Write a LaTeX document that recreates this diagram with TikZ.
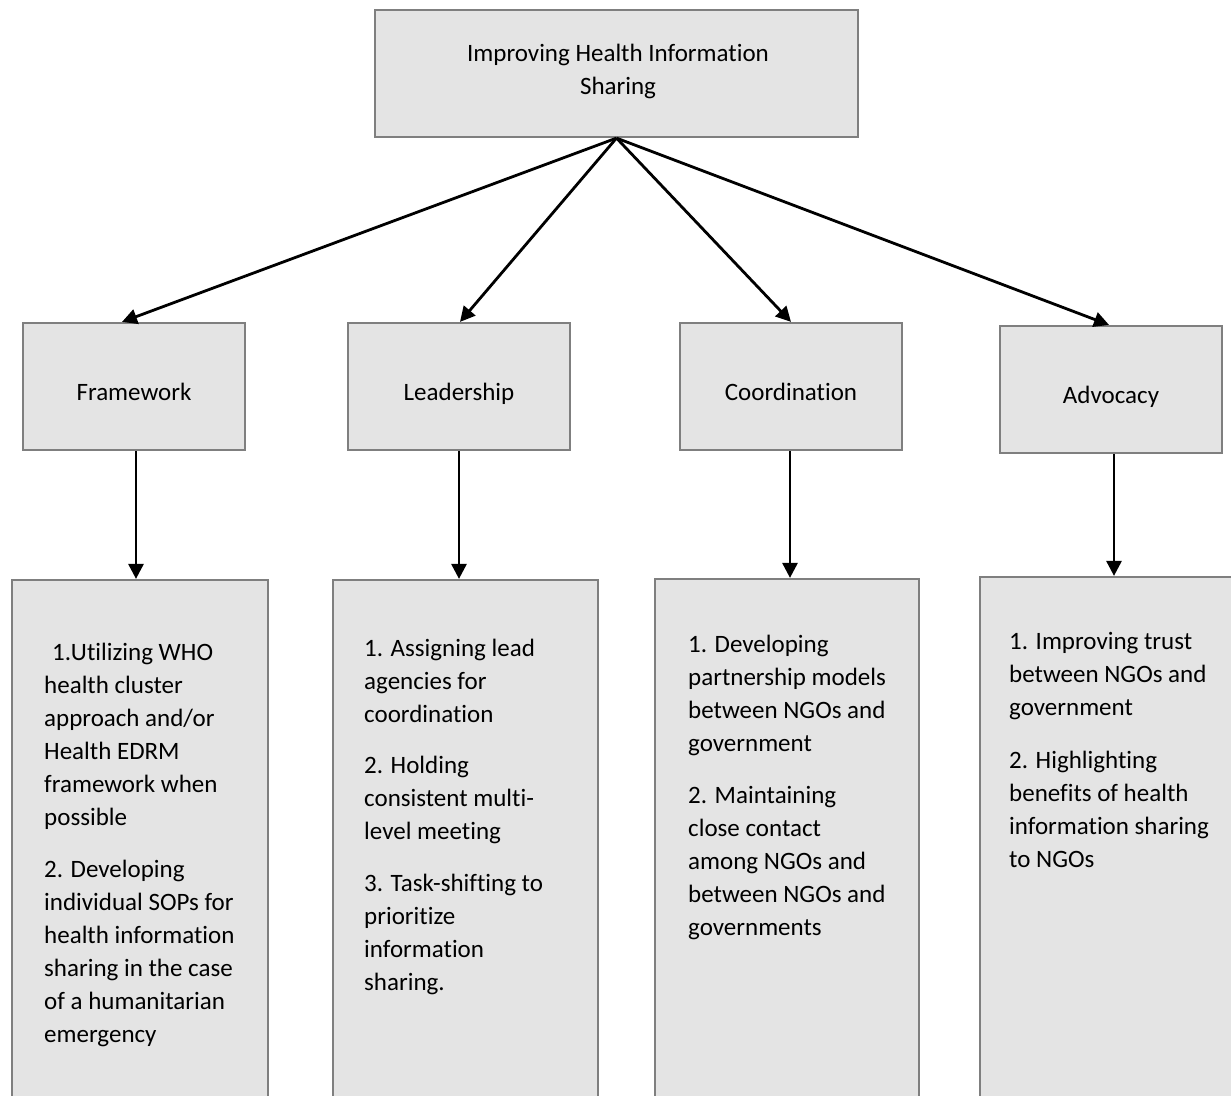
\documentclass[tikz,border=0pt]{standalone}
\usepackage{fontspec}
\setmainfont{Carlito}[Ligatures=NoCommon]
\usetikzlibrary{arrows.meta,calc}
\definecolor{boxfill}{HTML}{E4E4E4}
\definecolor{boxline}{HTML}{7F7F7F}
\tikzset{
  box/.style={draw=boxline, fill=boxfill, line width=2.2pt, rectangle, inner sep=0pt},
  midbox/.style={box, minimum width=222pt, minimum height=127pt, font=\fontsize{25}{33}\selectfont, text=black, text height=29pt, text depth=2pt},
  lbl/.style={font=\fontsize{25}{33}\selectfont, align=center, inner sep=0pt, text=black},
  body/.style={font=\fontsize{25}{33}\selectfont, align=left, inner sep=0pt, anchor=north west, text=black},
  arr/.style={line width=2.8pt, -{Triangle[length=15pt,width=15pt]}},
}
\begin{document}
\begin{tikzpicture}[x=1pt,y=-1pt]
\clip (0,0) rectangle (1231,1095);
\fill[white] (0,0) rectangle (1231,1095);
% top
\node[box, minimum width=483pt, minimum height=127pt] (top) at (616.5,73.5) {};
\node[lbl] (toptext) at (618,71) {Improving Health Information\\Sharing};
% middle
\node[midbox] (fw) at (134,386.5) {Framework};
\node[midbox] (ld) at (459,386.5) {Leadership};
\node[midbox] (co) at (791,386.5) {Coordination};
\node[midbox] (ad) at (1111,389.5) {Advocacy};
% detail boxes
\node[box, minimum width=256pt, minimum height=540pt] (fwd) at (140,850) {};
\node[box, minimum width=265pt, minimum height=540pt] (ldd) at (465.5,850) {};
\node[box, minimum width=264pt, minimum height=540pt] (cod) at (787,849) {};
\node[box, minimum width=265pt, minimum height=540pt] (add) at (1112.5,847) {};
% arrows
\draw[arr] (top.south) -- ([xshift=-12pt]fw.north);
\draw[arr] (top.south) -- ([xshift=1pt]ld.north);
\draw[arr] (top.south) -- (co.north);
\draw[arr] (top.south) -- ([xshift=-2pt]ad.north);
\draw[arr] ([xshift=2pt]fw.south) -- ([xshift=2pt]fw.south |- fwd.north);
\draw[arr] (ld.south) -- (ld.south |- ldd.north);
\draw[arr] ([xshift=-1pt]co.south) -- ([xshift=-1pt]co.south |- cod.north);
\draw[arr] ([xshift=3pt]ad.south) -- ([xshift=3pt]ad.south |- add.north);
% texts
\node[body] (fwt) at (44,643) {\hspace*{8pt}1.Utilizing WHO\\health cluster\\approach and/or\\Health EDRM\\framework when\\possible\\[19pt]2. Developing\\individual SOPs for\\health information\\sharing in the case\\of a humanitarian\\emergency};
\node[body] (ldt) at (364,639) {1. Assigning lead\\agencies for\\coordination\\[18pt]2. Holding\\consistent multi-\\level meeting\\[19pt]3. Task-shifting to\\prioritize\\information\\sharing.};
\node[body] (cot) at (688,635) {1. Developing\\partnership models\\between NGOs and\\government\\[19pt]2. Maintaining\\close contact\\among NGOs and\\between NGOs and\\governments};
\node[body] (adt) at (1009,632) {1. Improving trust\\between NGOs and\\government\\[20pt]2. Highlighting\\benefits of health\\information sharing\\to NGOs};
\end{tikzpicture}
\end{document}
